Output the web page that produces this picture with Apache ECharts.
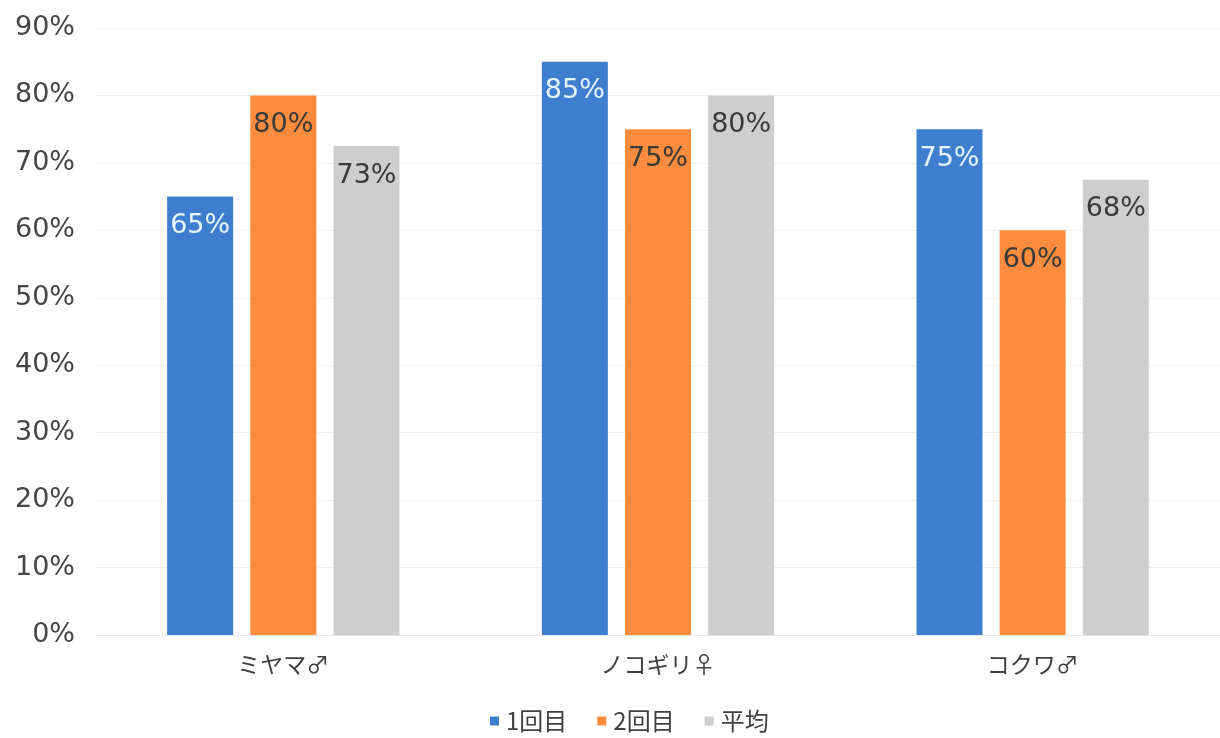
<!DOCTYPE html>
<html>
<head>
<meta charset="utf-8">
<script src="https://cdn.jsdelivr.net/npm/echarts@6/dist/echarts.min.js"></script>
<style>
html,body{margin:0;padding:0;background:#fff;}
#chart{width:1220px;height:738px;}
</style>
</head>
<body>
<div id="chart"></div>
<script>
const categories = ['ミヤマ♂', 'ノコギリ♀', 'コクワ♂'];
const seriesNames = ['1回目', '2回目', '平均'];
const first = [65, 85, 75];
const second = [80, 75, 60];
const average = [72.5, 80, 67.5];
const yTicks = [0, 10, 20, 30, 40, 50, 60, 70, 80, 90];

const colors = ['#3d7ecf', '#fb8b3d', '#cecece'];
const labelColors = ['#e8f2ff', '#3a3a3a', '#3a3a3a'];
const fontFam = '"DejaVu Sans", "Noto Sans CJK JP", sans-serif';
const cjkFam = '"Noto Sans CJK JP", "DejaVu Sans", sans-serif';

const chart = echarts.init(document.getElementById('chart'), null, {renderer: 'canvas'});
const values = [first, second, average];
chart.setOption({
  animation: false,
  color: colors,
  grid: {left: 96, top: 28, width: 1129, height: 607, containLabel: false},
  legend: {
    bottom: 0,
    left: 485,
    itemWidth: 9,
    itemHeight: 9,
    itemGap: 30,
    icon: 'rect',
    textStyle: {fontFamily: cjkFam, fontSize: 24, color: '#404040', padding: [0, 0, 0, 2]},
    data: seriesNames
  },
  xAxis: {
    type: 'category',
    data: categories,
    axisTick: {show: false},
    axisLine: {show: true, lineStyle: {color: '#e6e6e6'}},
    axisLabel: {fontFamily: cjkFam, fontSize: 23, color: '#404040', margin: 18}
  },
  yAxis: {
    type: 'value',
    min: yTicks[0],
    max: yTicks[yTicks.length - 1],
    interval: 10,
    axisLine: {show: false},
    axisTick: {show: false},
    splitLine: {lineStyle: {color: '#f0f0f0'}},
    axisLabel: {fontFamily: fontFam, fontSize: 27, color: '#454545', margin: 21, formatter: v => v + '%'}
  },
  series: seriesNames.map((name, i) => ({
    name: name,
    type: 'bar',
    data: values[i],
    barWidth: 66,
    barGap: '26%',
    itemStyle: {color: colors[i]},
    label: {
      show: true,
      position: 'insideTop',
      distance: 16,
      fontFamily: fontFam,
      fontSize: 27,
      color: labelColors[i],
      formatter: p => Math.round(p.value) + '%'
    }
  }))
});
</script>
</body>
</html>
